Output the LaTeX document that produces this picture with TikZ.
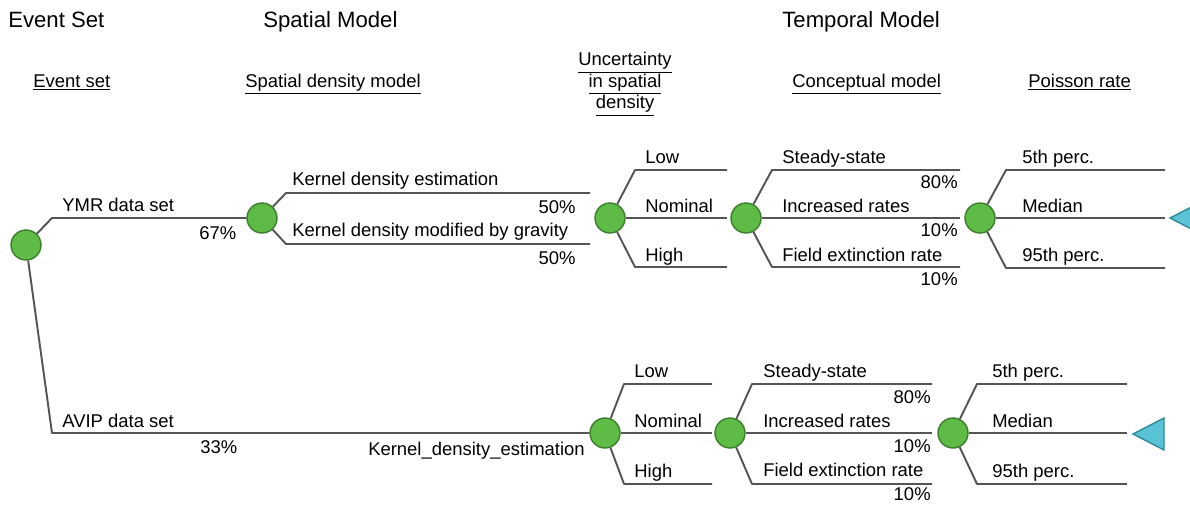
\documentclass[tikz,border=0pt]{standalone}
\usepackage{fontspec}
\setmainfont{Liberation Sans}
\usepackage{xcolor}
\usepackage{tikz}
\usetikzlibrary{positioning}
\definecolor{linegray}{HTML}{555555}
\definecolor{nodegreen}{HTML}{5DBB46}
\definecolor{nodeedge}{HTML}{3C7D2C}
\definecolor{leafblue}{HTML}{5BC3D6}
\definecolor{leafedge}{HTML}{2F8A99}

\begin{document}
\begin{tikzpicture}[x=0.02cm, y=-0.02cm,
  chance/.style={circle, draw=nodeedge, fill=nodegreen, line width=0.8pt, minimum size=30*0.02cm, inner sep=0pt},
  branch/.style={draw=linegray, line width=1.1pt, line join=round},
  leaf/.style={draw=leafedge, fill=leafblue, line width=0.8pt},
  lbl/.style={anchor=base west, inner sep=0pt, font=\fontsize{10.5}{12.6}\selectfont},
  pct/.style={anchor=base east, inner sep=0pt, font=\fontsize{10.5}{12.6}\selectfont},
  head/.style={anchor=base west, inner sep=0pt, font=\fontsize{12.6}{15}\selectfont},
  sub/.style={anchor=base west, inner sep=0pt, font=\fontsize{10.5}{12.6}\selectfont}]
\clip (0,0) rectangle (1190,505);

\node (t-event) [head] at (8,27) {Event Set};
\node (t-spatial) [head] at (263,27) {Spatial Model};
\node (t-temporal) [head] at (782,27) {Temporal Model};

\node (s-event) [sub] at (33,87) {\underline{Event set}};
\node (s-spatial) [sub] at (245,87) {\underline{Spatial density model}};
\node (s-unc) [anchor=north, inner sep=0pt, align=center, font=\fontsize{10.5}{12.2}\selectfont] at (625,52) {\underline{Uncertainty}\\\underline{in spatial}\\\underline{density}};
\node (s-concept) [sub] at (792,87) {\underline{Conceptual model}};
\node (s-poisson) [sub] at (1028,87) {\underline{Poisson rate}};

\node (root) [chance] at (26,245) {};
\node (sp1) [chance] at (262,218) {};
\node (un1) [chance] at (610,218) {};
\node (tm1) [chance] at (746,218) {};
\node (po1) [chance] at (980,218) {};
\node (un2) [chance] at (605,433) {};
\node (tm2) [chance] at (730,433) {};
\node (po2) [chance] at (953,433) {};

\coordinate (c-ymr) at (52,218);
\coordinate (c-avip) at (52,433);
\draw[branch] (root) -- (c-ymr) -- (sp1);
\draw[branch] (root) -- (c-avip) -- (un2);
\node (l-ymr) [lbl] at (62,211) {YMR data set};
\node (p-ymr) [lbl] at (199,239) {67\%};
\node (l-avip) [lbl] at (62,427) {AVIP data set};
\node (p-avip) [lbl] at (200,453) {33\%};
\node (l-kde2) [pct] at (585,455) {Kernel\_density\_estimation};

\coordinate (c-kde) at (286,193);
\coordinate (e-kde) at (590,193);
\coordinate (c-grav) at (286,244);
\coordinate (e-grav) at (590,244);
\draw[branch] (sp1) -- (c-kde) -- (e-kde);
\draw[branch] (sp1) -- (c-grav) -- (e-grav);
\node (l-kde) [lbl] at (292,185) {Kernel density estimation};
\node (p-kde) [pct] at (576,213) {50\%};
\node (l-grav) [lbl] at (292,236) {Kernel density modified by gravity};
\node (p-grav) [pct] at (576,264) {50\%};

\coordinate (c-low1) at (635,170);
\coordinate (e-low1) at (727,170);
\coordinate (e-nom1) at (727,218);
\coordinate (c-high1) at (635,267);
\coordinate (e-high1) at (727,267);
\draw[branch] (un1) -- (c-low1) -- (e-low1);
\draw[branch] (un1) -- (e-nom1);
\draw[branch] (un1) -- (c-high1) -- (e-high1);
\node (l-low1) [lbl] at (645,163) {Low};
\node (l-nom1) [lbl] at (645,212) {Nominal};
\node (l-high1) [lbl] at (645,261) {High};

\coordinate (c-ss1) at (772,170);
\coordinate (e-ss1) at (960,170);
\coordinate (e-inc1) at (960,218);
\coordinate (c-fe1) at (772,267);
\coordinate (e-fe1) at (960,267);
\draw[branch] (tm1) -- (c-ss1) -- (e-ss1);
\draw[branch] (tm1) -- (e-inc1);
\draw[branch] (tm1) -- (c-fe1) -- (e-fe1);
\node (l-ss1) [lbl] at (782,163) {Steady-state};
\node (p-ss1) [pct] at (958,188) {80\%};
\node (l-inc1) [lbl] at (782,212) {Increased rates};
\node (p-inc1) [pct] at (958,236) {10\%};
\node (l-fe1) [lbl] at (782,261) {Field extinction rate};
\node (p-fe1) [pct] at (958,285) {10\%};

\coordinate (c-p5a) at (1006,170);
\coordinate (e-p5a) at (1165,170);
\coordinate (e-meda) at (1165,218);
\coordinate (c-p95a) at (1006,268);
\coordinate (e-p95a) at (1165,268);
\draw[branch] (po1) -- (c-p5a) -- (e-p5a);
\draw[branch] (po1) -- (e-meda);
\draw[branch] (po1) -- (c-p95a) -- (e-p95a);
\node (l-p5a) [lbl] at (1022,163) {5th perc.};
\node (l-meda) [lbl] at (1022,212) {Median};
\node (l-p95a) [lbl] at (1022,261) {95th perc.};
\coordinate (tip1) at (1170,218);
\draw[leaf] (tip1) -- ++(31,-16) -- ++(0,32) -- cycle;

\coordinate (c-low2) at (624,384);
\coordinate (e-low2) at (712,384);
\coordinate (e-nom2) at (712,433);
\coordinate (c-high2) at (624,484);
\coordinate (e-high2) at (712,484);
\draw[branch] (un2) -- (c-low2) -- (e-low2);
\draw[branch] (un2) -- (e-nom2);
\draw[branch] (un2) -- (c-high2) -- (e-high2);
\node (l-low2) [lbl] at (634,377) {Low};
\node (l-nom2) [lbl] at (634,427) {Nominal};
\node (l-high2) [lbl] at (634,477) {High};

\coordinate (c-ss2) at (752,384);
\coordinate (e-ss2) at (932,384);
\coordinate (e-inc2) at (932,433);
\coordinate (c-fe2) at (752,484);
\coordinate (e-fe2) at (932,484);
\draw[branch] (tm2) -- (c-ss2) -- (e-ss2);
\draw[branch] (tm2) -- (e-inc2);
\draw[branch] (tm2) -- (c-fe2) -- (e-fe2);
\node (l-ss2) [lbl] at (763,377) {Steady-state};
\node (p-ss2) [pct] at (931,403) {80\%};
\node (l-inc2) [lbl] at (763,427) {Increased rates};
\node (p-inc2) [pct] at (931,452) {10\%};
\node (l-fe2) [lbl] at (763,476) {Field extinction rate};
\node (p-fe2) [pct] at (931,500) {10\%};

\coordinate (c-p5b) at (977,384);
\coordinate (e-p5b) at (1127,384);
\coordinate (e-medb) at (1127,433);
\coordinate (c-p95b) at (977,484);
\coordinate (e-p95b) at (1127,484);
\draw[branch] (po2) -- (c-p5b) -- (e-p5b);
\draw[branch] (po2) -- (e-medb);
\draw[branch] (po2) -- (c-p95b) -- (e-p95b);
\node (l-p5b) [lbl] at (992,377) {5th perc.};
\node (l-medb) [lbl] at (992,427) {Median};
\node (l-p95b) [lbl] at (992,477) {95th perc.};
\coordinate (tip2) at (1133,434);
\draw[leaf] (tip2) -- ++(31,-16) -- ++(0,32) -- cycle;
\end{tikzpicture}
\end{document}
